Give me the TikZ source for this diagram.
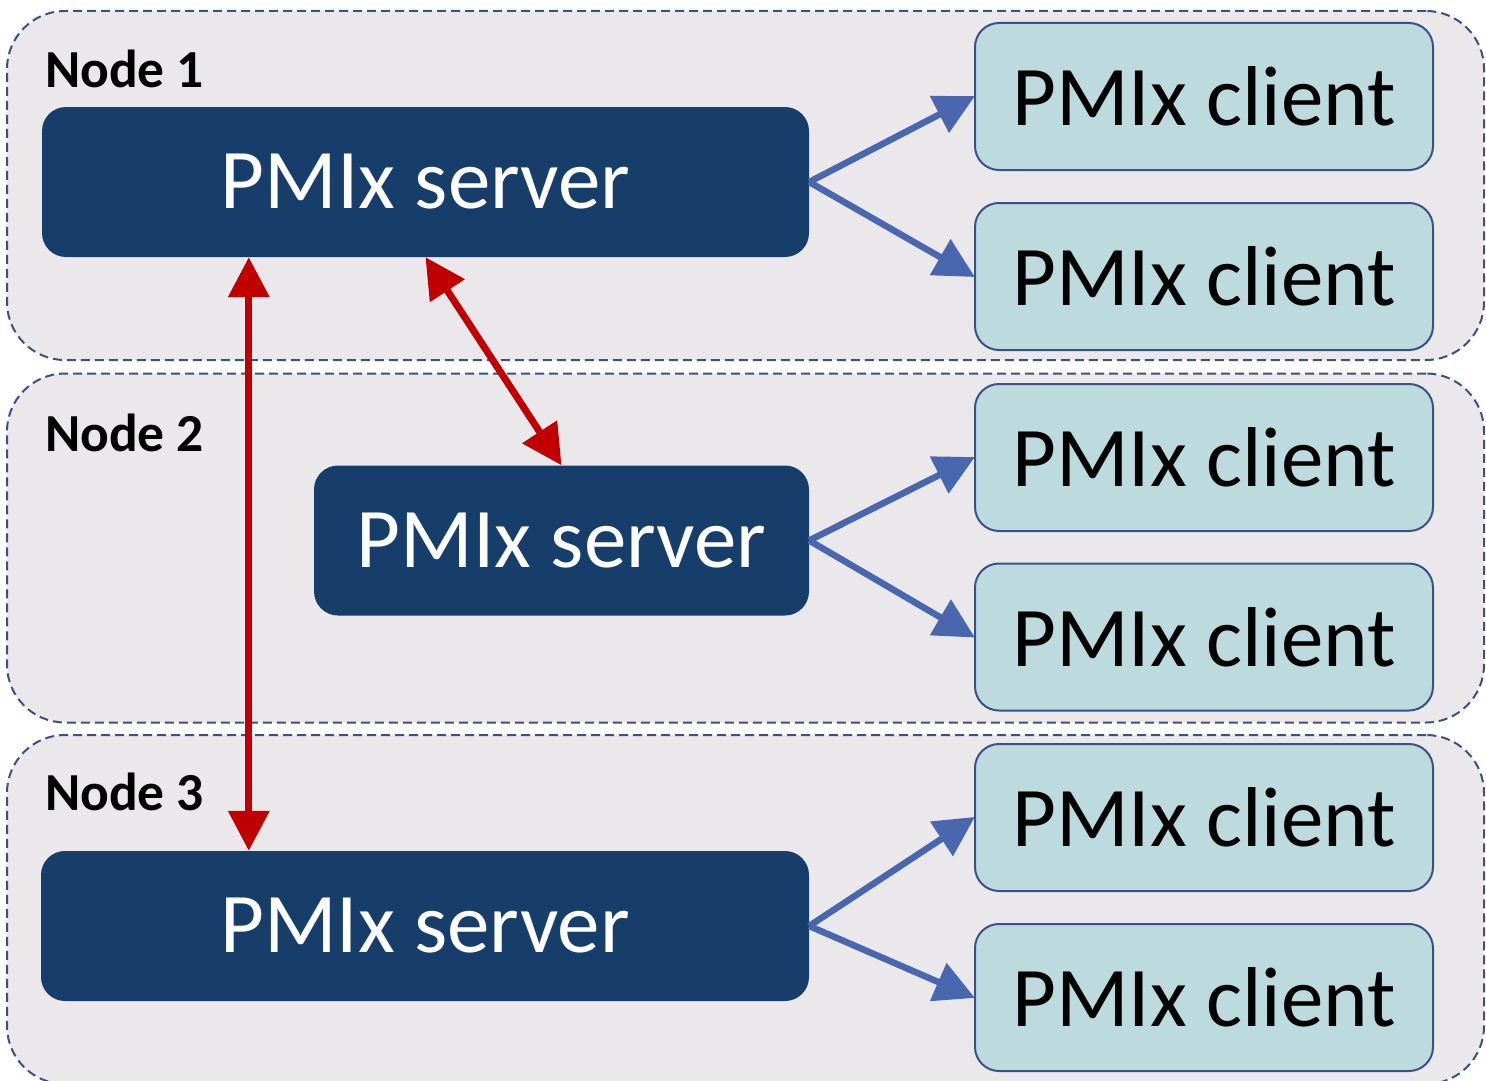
\documentclass[tikz,border=0pt]{standalone}
\usepackage{fontspec}
\setmainfont{Carlito}
\usetikzlibrary{arrows.meta}
\definecolor{groupfill}{HTML}{EBE8EC}
\definecolor{groupline}{HTML}{3C5083}
\definecolor{serverfill}{HTML}{173E6A}
\definecolor{clientfill}{HTML}{BDDBDF}
\definecolor{clientline}{HTML}{3B4F88}
\definecolor{linkblue}{HTML}{4A66AF}
\definecolor{linkred}{HTML}{C00000}
\tikzset{
  group/.style={draw=groupline, fill=groupfill, line width=2pt,
    dash pattern=on 9pt off 5pt, rounded corners=58pt,
    minimum width=1477pt, minimum height=349pt, inner sep=0pt},
  grouplabel/.style={anchor=base west, inner sep=0pt,
    font=\fontsize{53.5}{64}\selectfont\bfseries},
  server/.style={fill=serverfill, rounded corners=24pt, text=white,
    minimum height=150pt, inner sep=0pt,
    font=\fontsize{85}{102}\selectfont},
  client/.style={draw=clientline, fill=clientfill, line width=2pt,
    rounded corners=24pt, minimum width=458pt, minimum height=147pt,
    inner sep=0pt, font=\fontsize{85}{102}\selectfont},
  bluelink/.style={draw=linkblue, line width=6.5pt,
    -{Triangle[length=40pt,width=40pt]}, shorten >=-1pt},
  redlink/.style={draw=linkred, line width=7pt,
    {Triangle[length=40pt,width=40pt]}-{Triangle[length=40pt,width=40pt]}}
}
\begin{document}
\begin{tikzpicture}[x=1pt, y=-1pt]
  \useasboundingbox (0,0) rectangle (1486,1081);
  \clip (0,0) rectangle (1486,1081);
  \fill[white] (0,0) rectangle (1486,1081);

  % node groups
  \node[group] (g1) at (745.5,185.5) {};
  \node[group] (g2) at (745.5,548) {};
  \node[group] (g3) at (745.5,909.5) {};

  \node[grouplabel] (l1) at (45,88) {Node 1};
  \node[grouplabel] (l2) at (45,451) {Node 2};
  \node[grouplabel] (l3) at (45,810) {Node 3};

  % servers
  \node[server, minimum width=767pt] (s1) at (425.5,182) {PMIx server};
  \node[server, minimum width=495pt] (s2) at (561.5,540.5) {PMIx server};
  \node[server, minimum width=768pt] (s3) at (425,926) {PMIx server};

  % clients
  \node[client] (c11) at (1204,96.5) {PMIx client};
  \node[client] (c12) at (1204,276.5) {PMIx client};
  \node[client] (c21) at (1204,457.5) {PMIx client};
  \node[client] (c22) at (1204,637) {PMIx client};
  \node[client] (c31) at (1204,817.5) {PMIx client};
  \node[client] (c32) at (1204,997.5) {PMIx client};

  % server to client links
  \draw[bluelink] (s1.east) -- (c11.west);
  \draw[bluelink] (s1.east) -- (c12.west);
  \draw[bluelink] (s2.east) -- (c21.west);
  \draw[bluelink] (s2.east) -- (c22.west);
  \draw[bluelink] (s3.east) -- (c31.west);
  \draw[bluelink] (s3.east) -- (c32.west);

  % server to server links
  \draw[redlink] ([xshift=207pt]s1.south west) -- ([xshift=208pt]s3.north west);
  \draw[redlink] (s1.south) -- (s2.north);
\end{tikzpicture}
\end{document}
